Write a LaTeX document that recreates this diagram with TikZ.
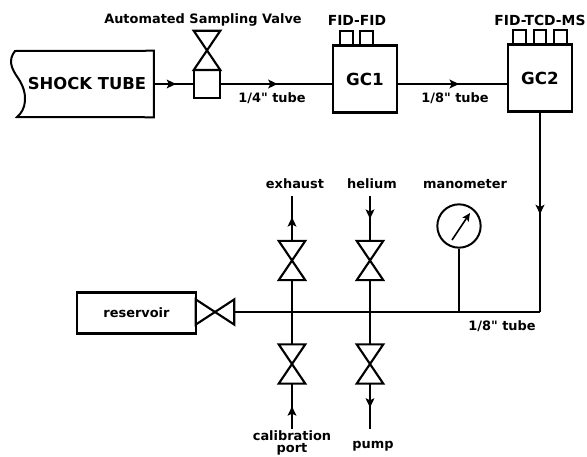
\documentclass[tikz,border=0pt]{standalone}
\usepackage{fontspec}
\setmainfont{DejaVu Sans}[Ligatures=TeXOff]
\usetikzlibrary{arrows.meta,positioning,decorations.markings}

\begin{document}
\begin{tikzpicture}[
  x=0.75pt, y=-0.75pt,
  lab/.style={font=\bfseries\fontsize{9.7}{8.4}\selectfont, inner sep=0pt, align=center},
  fidlab/.style={lab, font=\bfseries\fontsize{10.4}{11}\selectfont},
  box/.style={draw, line width=1.8pt, inner sep=0pt, align=center},
  gc/.style={box, minimum width=48pt, minimum height=50pt, font=\bfseries\fontsize{12.5}{13}\selectfont},
  port/.style={draw, line width=1.5pt, inner sep=0pt, minimum width=9.5pt, minimum height=10.5pt},
  bowtie/.style={draw, line width=1.6pt},
  vvalve/.style={inner sep=0pt, minimum width=19.5pt, minimum height=29pt},
  hvalve/.style={inner sep=0pt, minimum width=28.5pt, minimum height=18.5pt},
  line/.style={line width=1.6pt},
  pipe/.style={line, decoration={markings, mark=at position #1 with {\arrow{Stealth[length=7pt,width=6.5pt,inset=1.5pt]}}}, postaction={decorate}}
]
\useasboundingbox (0,0) rectangle (587,457);

% top row
\node[inner sep=0pt, minimum width=100pt, minimum height=49.5pt, font=\bfseries\fontsize{12.3}{13}\selectfont] (shock) at (87,84) {SHOCK TUBE};
\draw[line width=1.5pt] (shock.north east) -- (15,51) .. controls (8,60) and (11,68) .. (18,78)
  .. controls (29,94) and (26,110) .. (17,117) -- (shock.south east) -- cycle;
\node[box, minimum width=19.5pt, minimum height=21pt] (sampler) at (207,84) {};
\node[vvalve, above=-0.9pt of sampler] (samplevalve) {};
\node[gc] (gc1) at (365,79) {GC1};
\node[gc] (gc2) at (540,78) {GC2};
\node[port, above=-0.9pt of gc1.north, xshift=-13.9pt] (portA) {};
\node[port, above=-0.9pt of gc1.north, xshift=1pt] (portB) {};
\node[port, above=-0.9pt of gc2.north] (portD) {};
\node[port, left=4.5pt of portD] (portC) {};
\node[port, right=4.5pt of portD] (portE) {};

\node[lab] (samplelab) at (203,20) {Automated Sampling Valve};
\node[fidlab] (fidfid) at (357,20) {FID-FID};
\node[fidlab] (fidtcd) at (540,20) {FID-TCD-MS};
\node[lab] (tubeA) at (272,98) {1/4" tube};
\node[lab] (tubeB) at (455,98) {1/8" tube};

\coordinate (corner) at (540,312);
\node[lab] (tubeC) at (502,326) {1/8" tube};

% gas handling
\node[box, minimum width=89pt, minimum height=31pt, font=\bfseries\fontsize{9.7}{10}\selectfont] (reservoir) at (136.5,313) {reservoir};
\node[hvalve] (resvalve) at (215,312) {};
\node[vvalve] (exvalve) at (292,260.5) {};
\node[vvalve] (calvalve) at (292,364) {};
\node[vvalve] (hevalve) at (370,260.5) {};
\node[vvalve] (pumpvalve) at (370,364) {};
\node[circle, draw, line width=1.5pt, minimum size=32.5pt, inner sep=0pt] (gauge) at (459,226) {};

\node[lab] (exhaust) at (295,184) {exhaust};
\node[lab] (helium) at (372,184) {helium};
\node[lab] (manometer) at (465,184) {manometer};
\node[lab] (calib) at (292,443) {calibration\\port};
\node[lab] (pump) at (373,446) {pump};

\coordinate (exend) at (292,196);
\coordinate (heend) at (370,196);
\coordinate (calend) at (292,429);
\coordinate (pumpend) at (370,429);
\coordinate (gaugejoin) at (459,312);
\coordinate (needlefoot) at (452,240);
\coordinate (needletip) at (470,213);

\foreach \v in {samplevalve,exvalve,calvalve,hevalve,pumpvalve}
  \draw[bowtie] (\v.north west) -- (\v.north east) -- (\v.south west) -- (\v.south east) -- cycle;
\draw[bowtie] (resvalve.north west) -- (resvalve.south east) -- (resvalve.north east) -- (resvalve.south west) -- cycle;

\draw[pipe=0.57] (shock.east |- sampler) -- (sampler);
\draw[pipe=0.51] (sampler.east) -- (gc1.west |- sampler);
\draw[pipe=0.56] (gc1.east |- sampler) -- (gc2.west |- sampler);
\draw[pipe=0.51] (gc2.south) -- (corner);
\draw[line width=1.3pt] (corner) -- (resvalve.east);

\draw[pipe=0.53] (exvalve.north) -- (exend);
\draw[pipe=0.51] (heend) -- (hevalve.north);
\draw[pipe=0.5] (calend) -- (calvalve.south);
\draw[pipe=0.53] (pumpvalve.south) -- (pumpend);
\draw[line] (exvalve.south) -- (calvalve.north);
\draw[line] (hevalve.south) -- (pumpvalve.north);
\draw[line] (gauge.south) -- (gaugejoin);
\draw[line width=1.2pt, -{Stealth[length=6pt,width=5.5pt,inset=1.2pt]}] (needlefoot) -- (needletip);
\end{tikzpicture}
\end{document}
